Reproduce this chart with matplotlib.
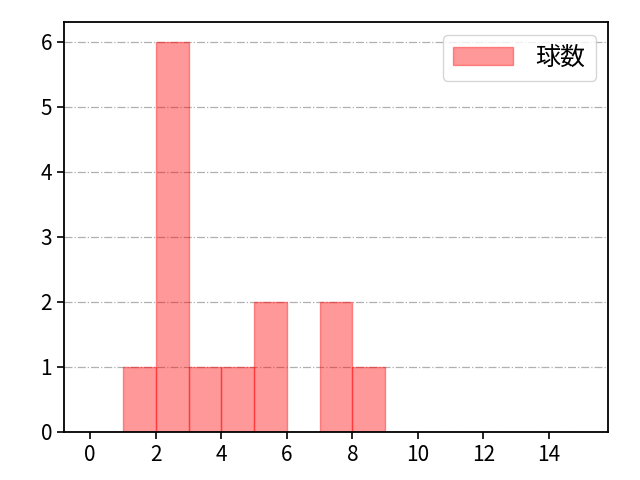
import numpy as np
import matplotlib.pyplot as plt

plt.rcParams['font.family'] = ['Noto Sans CJK JP', 'DejaVu Sans']

bin_edges = list(range(0, 16))
counts = [0, 1, 6, 1, 1, 2, 0, 2, 1, 0, 0, 0, 0, 0, 0]
label = "球数"

fig = plt.figure(figsize=(6.4, 4.8), dpi=100)
ax = fig.add_axes([0.1, 0.1, 0.85, 0.854])

ax.hist(bin_edges[:-1], bins=bin_edges, weights=counts, color='red', alpha=0.4,
        edgecolor='red', label=label)
ax.set_xlim(-0.8, 15.8)
ax.set_ylim(0, 6.3)
ax.set_xticks(range(0, 15, 2))
ax.grid(axis='y', color='#b0b0b0', linestyle='-.', linewidth=0.9)
ax.set_axisbelow(True)
ax.tick_params(labelsize=15, length=5, width=1.2)
for s in ax.spines.values():
    s.set_linewidth(1.3)
ax.legend(loc='upper right', fontsize=18, handlelength=2.4, handletextpad=0.9)

fig.savefig('out.png')
